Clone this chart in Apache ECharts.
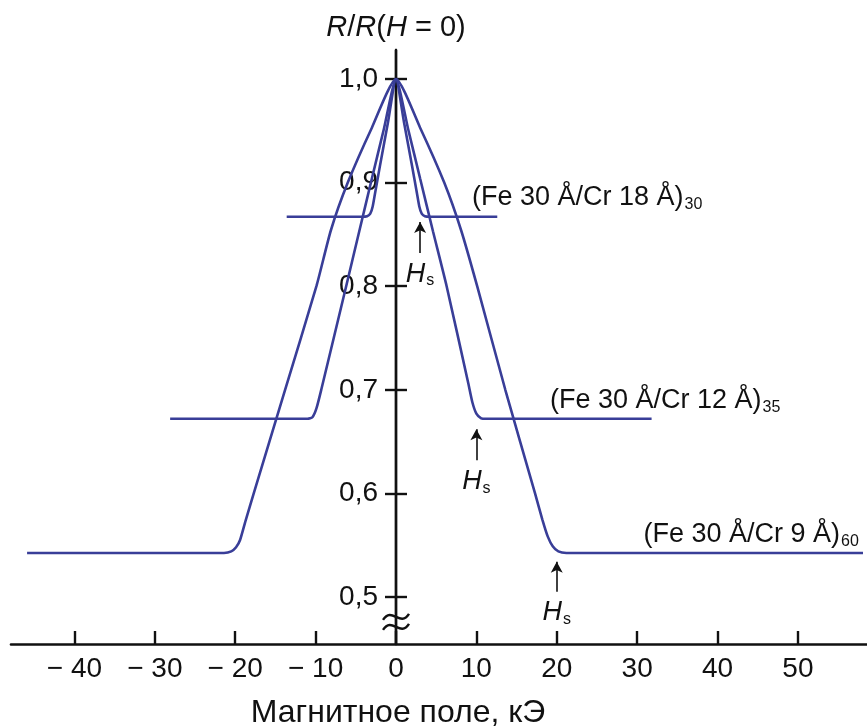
<!DOCTYPE html>
<html>
<head>
<meta charset="utf-8">
<script src="https://cdn.jsdelivr.net/npm/echarts@6/dist/echarts.min.js"></script>
<style>
  html, body { margin: 0; padding: 0; background: #fff; }
  #chart { width: 867px; height: 727px; }
</style>
</head>
<body>
<div id="chart"></div>
<script>
// (Fe 30 Å/Cr 18 Å)30
const cr18X = [-13.6, -4.2, -3.6, -3.2, -2.9, -2.6, -2, -1, 0, 1, 2, 2.6, 2.9, 3.2, 3.6, 4.2, 12.6]
const cr18Y = [0.867, 0.867, 0.8675, 0.870, 0.877, 0.890, 0.916, 0.958, 1.0, 0.958, 0.916, 0.890, 0.877, 0.870, 0.8675, 0.867, 0.867]

// (Fe 30 Å/Cr 12 Å)35
const cr12X = [-28.1, -11.0, -10.4, -9.9, -9.3, -6.2, -4.6, -3, -1.5, 0, 1.5, 3, 4.6, 6.3, 9.0, 9.5, 10.0, 10.6, 11.2, 31.8]
const cr12Y = [0.672, 0.672, 0.6735, 0.682, 0.700, 0.800, 0.852, 0.904, 0.952, 1.0, 0.952, 0.904, 0.853, 0.800, 0.706, 0.688, 0.677, 0.6725, 0.672, 0.672]

// (Fe 30 Å/Cr 9 Å)60
const cr9X = [-45.9, -21.4, -20.5, -19.9, -19.4, -18.7, -17.7, -13.8, -9.9, -8.1, -6, -3, 0, 3, 6, 8.1, 10.1, 13.6, 17.3, 18.2, 18.9, 19.5, 20.2, 21.2, 58.1]
const cr9Y = [0.5425, 0.5425, 0.544, 0.548, 0.555, 0.574, 0.600, 0.700, 0.800, 0.854, 0.900, 0.953, 1.0, 0.953, 0.900, 0.854, 0.800, 0.700, 0.600, 0.575, 0.558, 0.549, 0.544, 0.5425, 0.5425]

const curveNames = ['(Fe 30 Å/Cr 18 Å)', '(Fe 30 Å/Cr 12 Å)', '(Fe 30 Å/Cr 9 Å)']
const curveSubs = ['30', '35', '60']
const curveLabelAt = [[9.45, 0.886], [19.15, 0.690], [30.8, 0.560]]

// saturation field arrows H_s
const hsX = [3, 10, 20]
const hsTip = [0.862, 0.662, 0.534]
const hsBase = [0.832, 0.632, 0.505]

const xTicks = [-40, -30, -20, -10, 0, 10, 20, 30, 40, 50]
const yTicks = [0.5, 0.6, 0.7, 0.8, 0.9, 1.0]

const FONT = '"Liberation Sans", Arial, sans-serif'
const LINE = '#393e98'
const INK = '#111'
const GRID_LEFT = 11

const zip = (xs, ys) => xs.map((x, i) => [x, ys[i]])

const chart = echarts.init(document.getElementById('chart'))

const yBase = {
  type: 'value',
  position: 'left',
  min: 0.4546,
  max: 1.028,
  splitLine: { show: false },
  axisLine: { show: true, onZero: false, lineStyle: { color: INK, width: 2.4 } }
}

const curveSeries = [[cr18X, cr18Y], [cr12X, cr12Y], [cr9X, cr9Y]].map(([xs, ys], i) => ({
  type: 'line',
  data: zip(xs, ys),
  showSymbol: false,
  smooth: 0.2,
  lineStyle: { color: LINE, width: 2.6 },
  silent: true,
  markLine: {
    silent: true,
    symbol: ['none', 'arrow'],
    symbolSize: [9, 11],
    lineStyle: { color: INK, width: 1.6, type: 'solid' },
    label: {
      show: true,
      position: 'start',
      distance: 6,
      formatter: '{h|H}{s|s}',
      rich: {
        h: { fontFamily: FONT, fontStyle: 'italic', fontSize: 27, color: INK },
        s: { fontFamily: FONT, fontSize: 16, color: INK, padding: [14, 0, 0, 1] }
      }
    },
    data: [[{ coord: [hsX[i], hsBase[i]] }, { coord: [hsX[i], hsTip[i]] }]]
  }
}))

chart.setOption({
  animation: false,
  backgroundColor: '#fff',
  grid: { left: GRID_LEFT, right: 0, top: 50, bottom: 83, outerBoundsMode: 'none', containLabel: false },
  xAxis: {
    type: 'value',
    min: -47.9,
    max: 58.6,
    name: 'Магнитное поле, кЭ',
    nameLocation: 'middle',
    nameGap: 53,
    nameTextStyle: { fontFamily: FONT, fontSize: 32, color: INK, padding: [0, 82, 0, 0] },
    splitLine: { show: false },
    axisLine: { onZero: false, lineStyle: { color: INK, width: 2.6 } },
    axisTick: { inside: true, length: 13, customValues: xTicks, lineStyle: { color: INK, width: 2.4 } },
    axisLabel: {
      customValues: xTicks,
      margin: 11,
      fontFamily: FONT,
      fontSize: 28,
      color: INK,
      formatter: v => (v < 0 ? '\u2212 ' + Math.abs(v) : String(v))
    }
  },
  yAxis: [
    Object.assign({}, yBase, {
      name: '{i|R}{n|/}{i|R}{n|(}{i|H}{n| = 0)}',
      nameLocation: 'end',
      nameGap: 8,
      nameTextStyle: {
        rich: {
          i: { fontFamily: FONT, fontStyle: 'italic', fontSize: 29, color: INK },
          n: { fontFamily: FONT, fontSize: 29, color: INK }
        }
      },
      axisTick: { inside: false, length: 11, customValues: yTicks, lineStyle: { color: INK, width: 2.4 } },
      axisLabel: {
        customValues: yTicks,
        margin: 18,
        fontFamily: FONT,
        fontSize: 28,
        color: INK,
        formatter: v => v.toFixed(1).replace('.', ',')
      }
    }),
    Object.assign({}, yBase, {
      axisTick: { inside: true, length: 11, customValues: yTicks, lineStyle: { color: INK, width: 2.4 } },
      axisLabel: { show: false }
    })
  ],
  series: curveSeries
})

const toPx = p => chart.convertToPixel({ gridIndex: 0 }, p)

// move both y axes onto H = 0 (ticks cross the axis line)
const yOffset = GRID_LEFT - toPx([0, 1])[0]
chart.setOption({ yAxis: [{ offset: yOffset }, { offset: yOffset }] })

// curve captions and the axis break mark
const graphics = curveNames.map((name, i) => {
  const [px, py] = toPx(curveLabelAt[i])
  return {
    type: 'text',
    x: px,
    y: py,
    silent: true,
    style: {
      text: '{a|' + name + '}{b|' + curveSubs[i] + '}',
      verticalAlign: 'middle',
      rich: {
        a: { fontFamily: FONT, fontSize: 27, fill: INK },
        b: { fontFamily: FONT, fontSize: 16, fill: INK, padding: [14, 0, 0, 1] }
      }
    }
  }
})
const [bx, by] = toPx([0, 0.476])
;[-5, 5].forEach(dy => {
  graphics.push({
    type: 'bezierCurve',
    silent: true,
    shape: { x1: bx - 13, y1: by + dy + 3, cpx1: bx - 4, cpy1: by + dy - 11, cpx2: bx + 4, cpy2: by + dy + 11, x2: bx + 13, y2: by + dy - 3 },
    style: { stroke: INK, lineWidth: 2.4, fill: null }
  })
})
chart.setOption({ graphic: graphics })
</script>
</body>
</html>
